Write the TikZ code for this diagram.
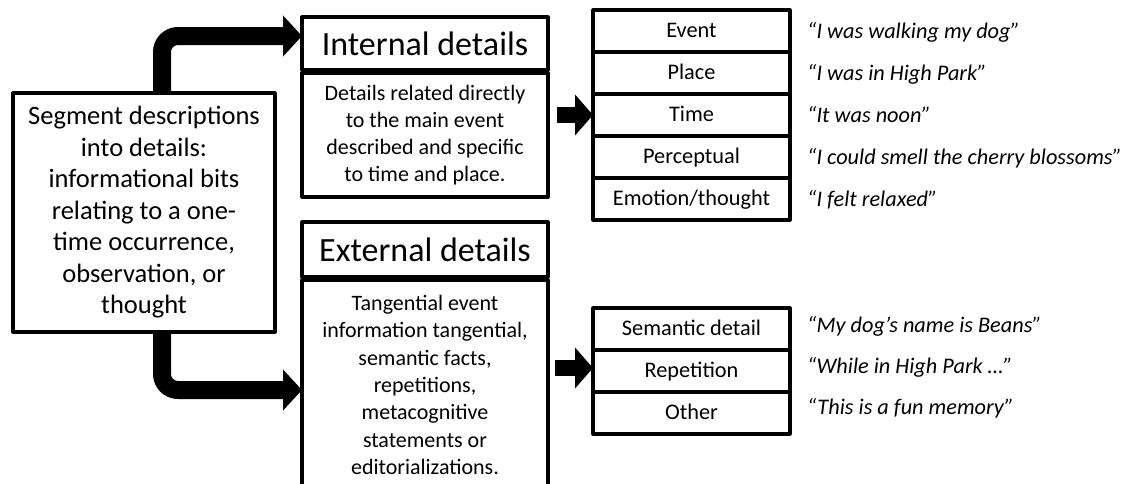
\documentclass[tikz,border=0pt]{standalone}
\usepackage{fontspec}
\setmainfont{Carlito}
\usetikzlibrary{arrows.meta,calc}
\begin{document}
\begin{tikzpicture}[x=1pt,y=-1pt,line join=round]
	\tikzset{box/.style={draw,line width=3.2pt,align=center,inner sep=0pt,outer sep=0pt},
		rowbox/.style={box,minimum width=197pt,minimum height=42pt,text height=16pt,text depth=3pt,font=\fontsize{22.3}{27}\selectfont},
		quote/.style={anchor=west,inner sep=0pt,text height=16pt,text depth=3pt,font=\fontsize{22.3}{27}\selectfont\itshape},
		bigarrow/.style={line width=18pt,-{Triangle[width=40pt,length=19pt]},rounded corners=16pt},
		midarrow/.style={line width=16pt,-{Triangle[width=40pt,length=18pt]}}}
	\useasboundingbox (0,0) rectangle (1133,483);
	% left box
	\node[box,minimum width=262pt,minimum height=239pt,font=\fontsize{26.5}{31.5}\selectfont] (segment) at (144,212.5)
		{Segment descriptions\\into details:\\informational bits\\relating to a one-\\time occurrence,\\observation, or\\thought};
	% middle column
	\node[box,minimum width=246pt,minimum height=53pt,font=\fontsize{34}{40}\selectfont] (inthead) at (425,43.5) {Internal details};
	\node[box,minimum width=246pt,minimum height=124pt,font=\fontsize{22}{27}\selectfont] (intbody) at (425,135)
		{Details related directly\\to the main event\\described and specific\\to time and place.};
	\node[box,minimum width=246pt,minimum height=55pt,font=\fontsize{34}{40}\selectfont] (exthead) at (425,249.5) {External details};
	\node[box,minimum width=246pt,minimum height=210pt,font=\fontsize{22}{27.3}\selectfont] (extbody) at (425,385)
		{Tangential event\\information tangential,\\semantic facts,\\repetitions,\\metacognitive\\statements or\\editorializations.};
	% internal categories
	\foreach \n/\t/\q [count=\i] in {event/Event/{“I was walking my dog”},place/Place/{“I was in High Park”},
		time/Time/{“It was noon”},perc/Perceptual/{“I could smell the cherry blossoms”},
		emo/{Emotion/thought}/{“I felt relaxed”}}{
		\node[rowbox] (\n) at (691.5,{31+42*(\i-1)}) {\t};
		\node[quote] (q\n) at (807,{32+42*(\i-1)}) {\q};}
	% external categories
	\foreach \n/\t/\q [count=\i] in {sem/Semantic detail/{“My dog’s name is Beans”},rep/Repetition/{“While in High Park …”},
		other/Other/{“This is a fun memory”}}{
		\node[rowbox] (\n) at (691.5,{329+42*(\i-1)}) {\t};
		\node[quote] (q\n) at (807,{326+41*(\i-1)}) {\q};}
	% arrows
	\draw[bigarrow] ([xshift=18pt]segment.north) |- ([yshift=7.5pt]inthead.west);
	\draw[bigarrow] ([xshift=18pt]segment.south) |- ([yshift=-5pt]extbody.west);
	\draw[midarrow] ($(intbody.east |- time.west)+(9,0)$) -- (time.west);
	\draw[midarrow] ($(extbody.east |- rep.west)+(7,-3)$) -- ($(rep.west)+(0,-3)$);
\end{tikzpicture}
\end{document}
